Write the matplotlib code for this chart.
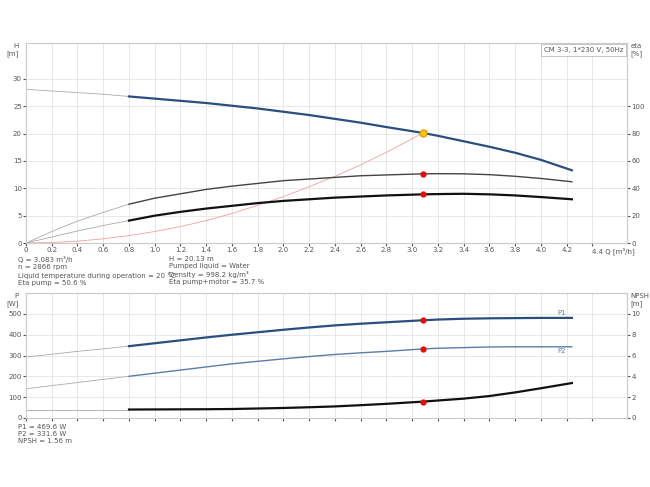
import numpy as np
import matplotlib as mpl
mpl.use('Agg')
import matplotlib.pyplot as plt

# pump curve data (Q in m3/h)
q = [0.0, 0.2, 0.4, 0.6, 0.8, 1.0, 1.2, 1.4, 1.6, 1.8, 2.0, 2.2, 2.4, 2.6, 2.8,
     3.083, 3.2, 3.4, 3.6, 3.8, 4.0, 4.24]
head = [28.1, 27.8, 27.5, 27.2, 26.8, 26.4, 26.0, 25.6, 25.1, 24.6, 24.0, 23.4,
        22.7, 22.0, 21.2, 20.13, 19.6, 18.6, 17.6, 16.5, 15.2, 13.3]
eta_pump = [0.0, 2.1, 4.0, 5.6, 7.1, 8.2, 9.0, 9.8, 10.4, 10.9, 11.4, 11.7,
            12.0, 12.3, 12.45, 12.65, 12.68, 12.65, 12.5, 12.2, 11.8, 11.2]
eta_total = [0.0, 1.1, 2.2, 3.2, 4.1, 5.0, 5.7, 6.3, 6.8, 7.3, 7.7, 8.0,
             8.3, 8.5, 8.7, 8.9, 8.95, 9.0, 8.9, 8.7, 8.4, 8.0]
p1 = [293, 306, 320, 332, 345, 359, 373, 387, 400, 412, 424, 435,
      445, 453, 460, 469.6, 473, 477, 479, 480, 481, 481]
p2 = [140, 155, 170, 185, 200, 215, 230, 245, 260, 272, 284, 295,
      305, 313, 320, 331.6, 335, 338, 341, 342, 342, 342]
npsh = [0.8, 0.8, 0.8, 0.8, 0.8, 0.81, 0.82, 0.83, 0.85, 0.9, 0.95, 1.02,
        1.1, 1.22, 1.35, 1.56, 1.67, 1.85, 2.1, 2.45, 2.85, 3.35]
q_sys = [0.0, 0.2, 0.4, 0.6, 0.8, 1.0, 1.2, 1.4, 1.6, 1.8, 2.0, 2.2, 2.4, 2.6,
         2.8, 3.083, 3.12]
h_sys = [0.0, 0.08, 0.34, 0.76, 1.36, 2.1, 3.0, 4.1, 5.4, 6.9, 8.5, 10.3,
         12.2, 14.3, 16.6, 20.13, 20.6]
q_op, h_op = 3.083, 20.13
op = 15  # index of the duty point
x_ticks = [round(0.2 * i, 1) for i in range(23)]

grey = '#555555'
blue = '#2a4f7f'
fs = 5
cut = 4  # index of Q=0.8, start of the heavy part

fig = plt.figure(figsize=(6.5, 4.87), dpi=100)
ax = fig.add_axes([0.04, 0.501, 0.925, 0.411])
ax2 = ax.twinx()
bx = fig.add_axes([0.04, 0.142, 0.925, 0.256])
bx2 = bx.twinx()


def style(a, ylim, yticks):
    a.set_xlim(0, 4.67)
    a.set_ylim(*ylim)
    a.set_yticks(yticks)
    a.set_xticks(x_ticks)
    a.tick_params(labelsize=fs, colors=grey, length=2, pad=1)
    for s in a.spines.values():
        s.set_color('#cccccc')


style(ax, (0, 36.6), [0, 5, 10, 15, 20, 25, 30])
ax.grid(color='#e4e4e4', lw=0.6)
ax.set_xticklabels([('%.1f' % t if t > 0 else '0') for t in x_ticks[:-1]] + [''])
ax.text(4.4, -0.8, '4.4 Q [m³/h]', fontsize=fs, color=grey, ha='left', va='top')
style(ax2, (0, 36.6 * 4), [0, 20, 40, 60, 80, 100])
style(bx, (0, 600), [0, 100, 200, 300, 400, 500])
bx.grid(color='#e4e4e4', lw=0.6)
bx.set_xticklabels([])
style(bx2, (0, 12), [0, 2, 4, 6, 8, 10])

ax.text(-0.012, 1.0, 'H\n[m]', transform=ax.transAxes, fontsize=fs, color=grey, ha='right', va='top')
ax.text(1.005, 1.0, 'eta\n[%]', transform=ax.transAxes, fontsize=fs, color=grey, ha='left', va='top')
bx.text(-0.012, 1.0, 'P\n[W]', transform=bx.transAxes, fontsize=fs, color=grey, ha='right', va='top')
bx.text(1.005, 1.0, 'NPSH\n[m]', transform=bx.transAxes, fontsize=fs, color=grey, ha='left', va='top')
ax.text(0.993, 0.98, 'CM 3-3, 1*230 V, 50Hz', transform=ax.transAxes, fontsize=fs, color=grey,
        ha='right', va='top', bbox=dict(fc='white', ec='#bbbbbb', lw=0.6, pad=2))

# top chart
ax.plot(q_sys, h_sys, color='#f0a0a0', lw=0.6)
ax.plot(q[:cut + 1], head[:cut + 1], color='#aaaaaa', lw=0.6)
ax.plot(q[cut:], head[cut:], color=blue, lw=1.6)
ax.plot(q[:cut + 1], eta_pump[:cut + 1], color='#aaaaaa', lw=0.6)
ax.plot(q[cut:], eta_pump[cut:], color='#444444', lw=1.0)
ax.plot(q[:cut + 1], eta_total[:cut + 1], color='#aaaaaa', lw=0.6)
ax.plot(q[cut:], eta_total[cut:], color='#111111', lw=1.6)
ax.plot([q_op], [h_op], 'o', color='#f5c518', ms=5, mec='#e0a000', zorder=5)
ax.plot([q_op, q_op], [eta_pump[op], eta_total[op]], 'o', color='#e01010', ms=3.5, ls='none', zorder=5)

# bottom chart
bx.plot(q[:cut + 1], p1[:cut + 1], color='#aaaaaa', lw=0.6)
bx.plot(q[cut:], p1[cut:], color=blue, lw=1.6)
bx.plot(q[:cut + 1], p2[:cut + 1], color='#aaaaaa', lw=0.6)
bx.plot(q[cut:], p2[cut:], color='#5a7ca8', lw=1.0)
bx2.plot(q[:cut + 1], npsh[:cut + 1], color='#aaaaaa', lw=0.6)
bx2.plot(q[cut:], npsh[cut:], color='#111111', lw=1.6)
bx.plot([q_op, q_op], [p1[op], p2[op]], 'o', color='#e01010', ms=3.5, ls='none', zorder=5)
bx2.plot([q_op], [npsh[op]], 'o', color='#e01010', ms=3.5, zorder=5)
bx.text(4.13, p1[-1] + 8, 'P1', fontsize=fs, color='#5a7ca8', va='bottom')
bx.text(4.13, p2[-1] - 8, 'P2', fontsize=fs, color='#5a7ca8', va='top')

info1 = 'Q = 3.083 m³/h\nn = 2866 rpm\nLiquid temperature during operation = 20 °C\nEta pump = 50.6 %'
info2 = 'H = 20.13 m\nPumped liquid = Water\nDensity = 998.2 kg/m³\nEta pump+motor = 35.7 %'
fig.text(0.028, 0.474, info1, fontsize=fs, color=grey, va='top', linespacing=1.25)
fig.text(0.26, 0.474, info2, fontsize=fs, color=grey, va='top', linespacing=1.25)
fig.text(0.028, 0.13, 'P1 = 469.6 W\nP2 = 331.6 W\nNPSH = 1.56 m', fontsize=fs, color=grey,
         va='top', linespacing=1.25)

fig.savefig('out.png', dpi=100)
